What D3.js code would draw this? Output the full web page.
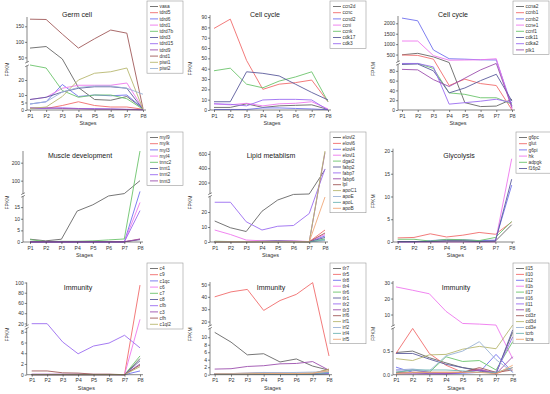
<!DOCTYPE html>
<html>
<head>
<meta charset="utf-8">
<script src="https://cdn.jsdelivr.net/npm/d3@7"></script>
<style>
body{margin:0;background:#fff;}
svg{display:block;font-family:"Liberation Sans",Arial,sans-serif;}
</style>
</head>
<body>
<div id="chart"></div>
<script>
const stages = ["P1","P2","P3","P4","P5","P6","P7","P8"];

// Origin-like colour order
const palette = ["#666666","#f06c6c","#7070ee","#ee77ee","#6cc46c","#5b5b9c","#9b6cf0",
                 "#9c4fae","#a05a5a","#b8b870","#9bb3d6","#6fb5b5","#f0a878"];

// germ cell
const germGenes = ["vasa","tdrd5","tdrd6","tdrd1","tdrd7b","tdrd3","tdrd15","tdrd9","dnd1","piwi1","piwi2"];
const germValues = [
  [80, 85, 45, 15, 7, 6.5, 9, 1],
  [1, 1, 3, 5.5, 3, 2, 2, 0.5],
  [4, 5.5, 17, 9, 10, 9.5, 10, 1],
  [7, 8.5, 14.5, 16.5, 16.5, 16.5, 18, 1],
  [30, 28, 13, 8.5, 10, 10, 7.5, 0.5],
  [7, 8.5, 12, 14.5, 15.5, 15.5, 14.5, 0.5],
  [1, 1, 1.5, 1, 1, 0.8, 0.5, 0.2],
  [1.5, 1.5, 1, 0.8, 0.5, 0.5, 0.3, 0.1],
  [173, 172, 125, 80, 110, 138, 128, 1],
  [1, 2, 9, 20, 24.5, 25.5, 28, 0.5],
  [4, 5.5, 12, 15, 16, 16, 14.5, 10.5]
];

// cell cycle (a)
const cycleAGenes = ["ccn2d","ccnc","ccnd2","ccni","ccnk","cdk17","cdk3"];
const cycleAValues = [
  [2.5, 2.5, 6, 2.5, 4, 4.5, 5, 0.5],
  [79, 88, 48, 20, 25, 26.5, 29, 8],
  [0.5, 0.5, 0.5, 2, 2, 1.5, 1, 0.3],
  [6, 5, 6.5, 4, 6, 6.5, 8, 1],
  [38, 40.5, 25, 21.5, 28, 32, 37, 8],
  [8, 8, 37, 35.5, 33, 25, 17, 9.7],
  [6, 5.5, 4, 9.7, 10.3, 10.3, 9.7, 0]
];

// cell cycle (b)
const cycleBGenes = ["ccna2","ccnb1","ccnb2","ccne1","ccnf1","cdk11","cdka2","plk1"];
const cycleBValues = [
  [490, 560, 390, 120, 15, 7, 8, 22],
  [480, 460, 280, 50, 63, 54, 50, 0],
  [2250, 2120, 720, 300, 280, 250, 240, 8],
  [1150, 1150, 450, 230, 240, 250, 300, 2],
  [95, 95, 85, 35, 32, 25, 25, 12],
  [93, 94, 80, 35, 45, 60, 73, 18],
  [96, 96, 88, 12, 15, 18, 22, 15],
  [83, 82, 62, 48, 65, 82, 97, 5]
];

// muscle development
const muscleGenes = ["myl9","mylk","myl3","myl4","tnnc2","tnnt1","tnnt2","tnnt3"];
const muscleValues = [
  [1.2, 0.5, 1.2, 13.3, 16, 19.8, 28, 100],
  [0, 0, 0, 0, 0.1, 0.2, 0.1, 1.2],
  [0, 0, 0, 0, 0, 0, 0, 40],
  [0, 0, 0, 0, 0, 0, 0, 17],
  [1, 0.2, 0.3, 0.3, 0.5, 0.9, 1.3, 265],
  [0.1, 0.1, 0.1, 0.1, 0.1, 0.1, 0.1, 1],
  [0, 0, 0, 0, 0, 0, 0, 13.5],
  [0.1, 0.1, 0.1, 0.1, 0.1, 0.1, 0.1, 1.3]
];

// lipid metabolism
const lipidGenes = ["elovl2","elovl6","elovl4","elovl1","dgat2","fabp2","fabp7","fabp6","lpl","apoC1","apoE","apoL","apoB"];
const lipidValues = [
  [14, 9.5, 7, 20.5, 28, 34, 40, 380],
  [0.3, 0.3, 0.3, 0.3, 0.3, 0.3, 0.2, 8],
  [0.2, 0.2, 0.2, 0.3, 0.3, 0.3, 0.2, 4],
  [8, 5, 1.3, 0.8, 0.8, 0.8, 0.3, 5],
  [0.5, 0.3, 0.2, 0.2, 0.2, 0.2, 0.1, 2],
  [0.1, 0.1, 0.1, 0.5, 0.8, 0.5, 0.2, 3],
  [26.5, 26.5, 13.5, 8, 10.5, 11, 19, 390],
  [0.1, 0.1, 0.1, 0.1, 0.1, 0.1, 0.1, 620],
  [0.2, 0.2, 0.2, 0.3, 0.3, 0.3, 0.2, 6],
  [0.1, 0.1, 0.1, 0.1, 0.1, 0.1, 0.1, 640],
  [0.1, 0.1, 0.1, 0.1, 0.1, 0.1, 0.1, 1],
  [0.1, 0.1, 0.1, 0.1, 0.1, 0.1, 0.1, 1.5],
  [0.1, 0.1, 0.1, 0.1, 0.1, 0.1, 0.1, 30]
];

// glycolysis
const glycoGenes = ["g6pc","glut","g6pi","hk","adpgk","f16p2"];
const glycoValues = [
  [0.1, 0.1, 0.1, 0.3, 0.3, 0.2, 0.2, 3.8],
  [0.9, 1, 1.8, 1.1, 1.5, 2.1, 1.7, 4.4],
  [0, 0, 0.3, 0.5, 0.5, 0.3, 0.4, 12.5],
  [0, 0, 0, 0, 0, 0, 0, 18.3],
  [0.6, 0.6, 0.2, 0.6, 0.5, 0.3, 1, 4.5],
  [0.1, 0.1, 0.1, 0.2, 0.2, 0.1, 0.2, 13.8]
];

// immunity: complement
const complGenes = ["c4","c9","c1qc","c6","c7","c8","cfb","c3","cfh","c1ql2"];
const complValues = [
  [0, 0, 0, 0, 0, 0, 0, 3],
  [0, 0, 0, 0, 0, 0, 0, 95],
  [0, 0, 0, 0, 0, 0, 0, 0.7],
  [0, 0, 0, 0, 0, 0, 0, 28],
  [0, 0, 0, 0, 0, 0, 0, 3.5],
  [0, 0, 0, 0, 0, 0, 0, 2.6],
  [19.5, 19.5, 6.1, 3.9, 5.35, 5.9, 7.35, 5],
  [0.1, 0.1, 0.1, 0.1, 0.05, 0.05, 0, 2],
  [0.7, 0.7, 0.35, 0.3, 0.1, 0.1, 0, 1.8],
  [0, 0, 0, 0, 0, 0, 0, 1.5]
];

// immunity: tlr / irf
const tlrGenes = ["tlr7","tlr5","tlr8","tlr4","tlr6","tlr1","tlr2","tlr3","irf6","irf1","irf2","irf4","irf5"];
const tlrValues = [
  [11.3, 8.7, 5.3, 5.6, 3.4, 4.2, 2.3, 1.2],
  [40, 44, 46, 29, 37, 42, 51.5, 5],
  [0.2, 0.2, 0.2, 0.3, 0.3, 0.3, 0.3, 0.5],
  [0.1, 0.1, 0.2, 0.2, 0.2, 0.2, 0.2, 0.3],
  [0.1, 0.1, 0.1, 0.1, 0.1, 0.1, 0.1, 0.2],
  [0.2, 0.2, 0.3, 0.3, 0.4, 0.4, 0.4, 0.4],
  [0.1, 0.1, 0.1, 0.1, 0.1, 0.1, 0.1, 0.3],
  [1.5, 1.6, 2.2, 2.4, 2.9, 3.0, 3.5, 1.2],
  [0.3, 0.3, 0.4, 0.5, 0.4, 0.3, 0.3, 1.5],
  [0.2, 0.2, 0.3, 0.3, 0.3, 0.3, 0.4, 1.4],
  [0.3, 0.3, 0.4, 0.6, 0.5, 0.6, 0.7, 0.8],
  [0.1, 0.1, 0.1, 0.1, 0.1, 0.1, 0.1, 0.6],
  [0.2, 0.2, 0.2, 0.3, 0.3, 0.3, 0.4, 1.0]
];

// immunity: interleukins / T cell
const ilGenes = ["il15","il10","il12","il1b","il17","il16","il11","il6","cd3z","cd3d","cd3e","tcrb","tcra"];
const ilValues = [
  [0.47, 0.5, 0.36, 0.25, 0.15, 0.1, 0.03, 0.9],
  [0.45, 0.98, 0.45, 0.2, 0.05, 0.12, 0.02, 0.15],
  [0.16, 0.05, 0.02, 0.02, 0.03, 0.05, 0.43, 0.05],
  [27.3, 25.2, 23, 12, 4.4, 4, 3.4, 0.34],
  [0.05, 0.1, 0.05, 0.38, 0.28, 0.3, 0.1, 0.7],
  [0.45, 0.45, 0.33, 0.22, 0.15, 0.08, 0.02, 0.95],
  [0.1, 0.1, 0.05, 0.02, 0.05, 0.1, 0.05, 0.8],
  [0.02, 0.02, 0.02, 0.02, 0.05, 0.1, 0.02, 0.38],
  [0.05, 0.05, 0.05, 0.05, 0.05, 0.15, 0.05, 0.1],
  [0.34, 0.3, 0.42, 0.43, 0.54, 0.6, 0.55, 3.4],
  [0.1, 0.12, 0.08, 0.4, 0.5, 0.7, 0.32, 0.05],
  [0.05, 0.1, 0.1, 0.1, 0.08, 0.05, 0.05, 0.15],
  [0.02, 0.05, 0.05, 0.05, 0.05, 0.05, 0.02, 0.2]
];

// panel geometry (broken axes are piecewise linear scales)
const panels = [
  {title:"Germ cell", genes:germGenes, values:germValues, ox:0, oy:0, tx:77, ty:16.5,
   ax:27, x1:30, x8:143, ydom:[0,30,32,180], yran:[110,65,63,17], low:[0,5,10,20], high:[50,100,150], fmt:d3.format("d")},
  {title:"Cell cycle", genes:cycleAGenes, values:cycleAValues, ox:183, oy:0, tx:82, ty:16.5,
   ax:27, x1:31, x8:145, ydom:[0,92], yran:[110,15], low:d3.range(0,91,10), high:[], fmt:d3.format("d")},
  {title:"Cell cycle", genes:cycleBGenes, values:cycleBValues, ox:366, oy:0, tx:87, ty:16.5,
   ax:32, x1:36, x8:146, ydom:[0,95,120,2350], yran:[110,63.5,62.5,16], low:[0,20,40,60,80], high:[500,1000,1500,2000], fmt:d3.format("d")},
  {title:"Muscle development", genes:muscleGenes, values:muscleValues, ox:0, oy:131, tx:80, ty:26.5,
   ax:23, x1:30, x8:140, ydom:[0,20,23,265], yran:[111,64.5,63.5,20], low:[0,5,10,15], high:[100,200], fmt:d3.format("d")},
  {title:"Lipid metablism", genes:lipidGenes, values:lipidValues, ox:183, oy:131, tx:88, ty:26.5,
   ax:27, x1:31.7, x8:142, ydom:[0,31,33,640], yran:[111,64.5,63.5,20], low:[0,10,20], high:[200,400,600], fmt:d3.format("d")},
  {title:"Glycolysis", genes:glycoGenes, values:glycoValues, ox:366, oy:131, tx:93, ty:26.5,
   ax:27, x1:31.7, x8:145.7, ydom:[0,20.5], yran:[111,17.7], low:[0,5,10,15,20], high:[], fmt:d3.format("d")},
  {title:"Immunity", genes:complGenes, values:complValues, ox:0, oy:262, tx:78, ty:27.5,
   ax:26.7, x1:31.7, x8:140, ydom:[0,8.8,14,100], yran:[112.7,65.5,64.5,20.5], low:[0,2,4,6,8], high:[20,40,60,80,100], fmt:d3.format("d")},
  {title:"Immunity", genes:tlrGenes, values:tlrValues, ox:183, oy:262, tx:88, ty:27.5,
   ax:27, x1:31.7, x8:146, ydom:[0,12.6,16,52], yran:[112.7,65.5,64.5,20], low:[0,2,4,6,8,10], high:[20,30,40,50], fmt:d3.format("d")},
  {title:"Immunity", genes:ilGenes, values:ilValues, ox:366, oy:262, tx:90, ty:27.5,
   ax:27, x1:30, x8:146.7, ydom:[0,1.0,2.5,31], yran:[112.7,65.5,64.5,19], low:[0,0.5], high:[10,20,30], fmt:d3.format(".1f"), fmtHigh:d3.format("d")}
];

const svg = d3.select("#chart").append("svg")
  .attr("width", 550)
  .attr("height", 394);

panels.forEach(p => {
  const g = svg.append("g").attr("transform", `translate(${p.ox},${p.oy})`);
  const x = d3.scalePoint().domain(stages).range([p.x1, p.x8]);
  const y = d3.scaleLinear().domain(p.ydom).range(p.yran);
  const y0 = p.yran[0];
  const yTop = p.yran[p.yran.length - 1];
  const broken = p.ydom.length === 4;

  // lines
  const line = d3.line().x((d, i) => x(stages[i])).y(d => y(d));
  p.values.forEach((vals, i) => {
    g.append("path")
      .attr("d", line(vals))
      .attr("fill", "none")
      .attr("stroke", palette[i])
      .attr("stroke-width", 0.9);
  });

  // y axis
  const fmtHigh = p.fmtHigh || p.fmt;
  const yAxis = g.append("g")
    .attr("transform", `translate(${p.ax},0)`)
    .call(d3.axisLeft(y).tickValues(p.low.concat(p.high)).tickSize(2).tickPadding(1)
      .tickFormat(d => p.high.includes(d) ? fmtHigh(d) : p.fmt(d)));
  yAxis.select(".domain").remove();
  yAxis.selectAll("line").attr("stroke", "#333").attr("stroke-width", 0.6);
  yAxis.selectAll("text").attr("font-size", 5).attr("fill", "#333").attr("font-family", null);

  if (broken) {
    const yb1 = p.yran[1], yb2 = p.yran[2];
    g.append("line").attr("x1", p.ax).attr("x2", p.ax).attr("y1", y0).attr("y2", yb1 + 0.5)
      .attr("stroke", "#333").attr("stroke-width", 0.6);
    g.append("line").attr("x1", p.ax).attr("x2", p.ax).attr("y1", yb2 - 0.5).attr("y2", yTop)
      .attr("stroke", "#333").attr("stroke-width", 0.6);
    [yb1 + 0.8, yb2 - 0.8].forEach(yy => {
      g.append("line").attr("x1", p.ax - 2).attr("x2", p.ax + 2)
        .attr("y1", yy + 1).attr("y2", yy - 1)
        .attr("stroke", "#333").attr("stroke-width", 0.5);
    });
  } else {
    g.append("line").attr("x1", p.ax).attr("x2", p.ax).attr("y1", y0).attr("y2", yTop)
      .attr("stroke", "#333").attr("stroke-width", 0.6);
  }

  // x axis
  const xAxis = g.append("g")
    .attr("transform", `translate(0,${y0})`)
    .call(d3.axisBottom(x).tickSize(2).tickPadding(2));
  xAxis.select(".domain").remove();
  xAxis.selectAll("line").attr("stroke", "#333").attr("stroke-width", 0.6);
  xAxis.selectAll("text").attr("font-size", 5).attr("fill", "#333").attr("font-family", null);
  g.append("line").attr("x1", p.ax).attr("x2", p.x8 + 3).attr("y1", y0).attr("y2", y0)
    .attr("stroke", "#333").attr("stroke-width", 0.6);

  // labels
  g.append("text")
    .attr("x", (p.ax + p.x8) / 2 + 3)
    .attr("y", y0 + 15)
    .attr("text-anchor", "middle")
    .attr("font-size", 5.5)
    .attr("fill", "#333")
    .text("Stages");
  g.append("text")
    .attr("transform", `translate(9,${(y0 + yTop) / 2 + 6}) rotate(-90)`)
    .attr("text-anchor", "middle")
    .attr("font-size", 5)
    .attr("fill", "#333")
    .text("FPKM");
  g.append("text")
    .attr("x", p.tx)
    .attr("y", p.ty)
    .attr("text-anchor", "middle")
    .attr("font-size", 7)
    .attr("fill", "#222")
    .text(p.title);

  // legend
  const lx = p.title === "Glycolysis" ? 150 : 147;
  const step = p.genes.length > 11 ? 5.9 : 6.2;
  const lg = g.append("g").attr("transform", `translate(${lx},1)`);
  lg.append("rect")
    .attr("width", 36)
    .attr("height", 4 + p.genes.length * step)
    .attr("fill", "#fff")
    .attr("stroke", "#999")
    .attr("stroke-width", 0.6);
  const item = lg.selectAll("g.item")
    .data(p.genes)
    .enter()
    .append("g")
    .attr("class", "item")
    .attr("transform", (d, i) => `translate(0,${5.5 + i * step})`);
  item.append("line")
    .attr("x1", 3).attr("x2", 11).attr("y1", 0).attr("y2", 0)
    .attr("stroke", (d, i) => palette[i])
    .attr("stroke-width", 0.9);
  item.append("text")
    .attr("x", 12.5)
    .attr("y", 1.7)
    .attr("font-size", 4.8)
    .attr("fill", "#333")
    .text(d => d);
});
</script>
</body>
</html>
